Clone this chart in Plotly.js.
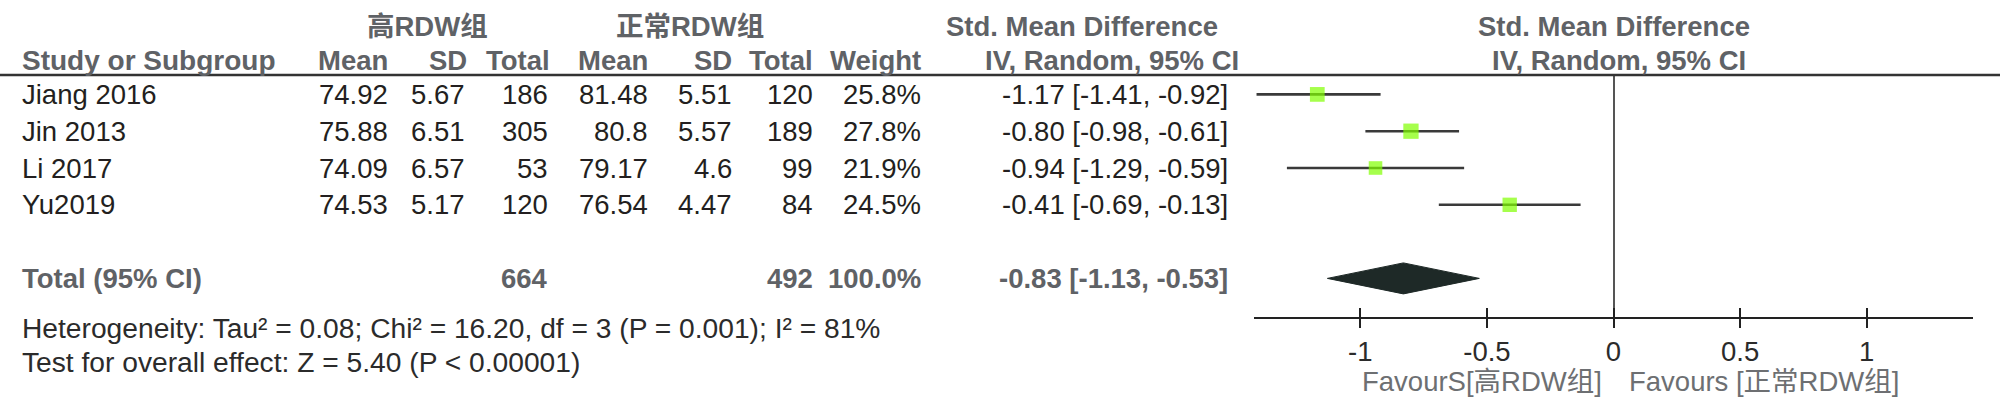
<!DOCTYPE html>
<html>
<head>
<meta charset="utf-8">
<script src="https://cdn.plot.ly/plotly-3.0.1.min.js"></script>
<style>html,body{margin:0;padding:0;background:#fff;}#chart{width:2000px;height:411px;}</style>
</head>
<body>
<div id="chart"></div>
<script>
// ---------------- data ----------------
const studies   = ['Jiang 2016', 'Jin 2013', 'Li 2017', 'Yu2019'];
const meanHigh  = [74.92, 75.88, 74.09, 74.53];
const sdHigh    = [5.67, 6.51, 6.57, 5.17];
const nHigh     = [186, 305, 53, 120];
const meanNorm  = [81.48, 80.8, 79.17, 76.54];
const sdNorm    = [5.51, 5.57, 4.6, 4.47];
const nNorm     = [120, 189, 99, 84];
const weights   = [25.8, 27.8, 21.9, 24.5];
const smd       = [-1.17, -0.80, -0.94, -0.41];
const ciLow     = [-1.41, -0.98, -1.29, -0.69];
const ciHigh    = [-0.92, -0.61, -0.59, -0.13];
const totalLabel = 'Total (95% CI)';
const totalNHigh = 664;
const totalNNorm = 492;
const totalWeight = 100.0;
const totalSmd = -0.83;
const totalLow = -1.13;
const totalHigh = -0.53;
const heterogeneityText = 'Heterogeneity: Tau² = 0.08; Chi² = 16.20, df = 3 (P = 0.001); I² = 81%';
const overallText = 'Test for overall effect: Z = 5.40 (P < 0.00001)';
const groupHigh = '高RDW组';
const groupNorm = '正常RDW组';
const colHeaders = ['Study or Subgroup', 'Mean', 'SD', 'Total', 'Mean', 'SD', 'Total', 'Weight', 'IV, Random, 95% CI'];
const effectHeader = 'Std. Mean Difference';
const favourLeft = 'FavourS[高RDW组]';
const favourRight = 'Favours [正常RDW组]';
const tickVals = [-1, -0.5, 0, 0.5, 1];
const tickText = ['-1', '-0.5', '0', '0.5', '1'];

// ---------------- layout helpers ----------------
const W = 2000, H = 411;
const FONT = "'Liberation Sans', Arial, 'Noto Sans CJK SC', sans-serif";
const FS = 27.5;
const rowTop = 94.4, rowStep = 36.8;          // pixel position of row 0 and pitch
const domTop = 75, domBot = 316.7;            // plot panel vertical extent (px)
const totalRow = studies.length + 1;          // index of the total row

const px = x => x / W;
const py = y => 1 - y / H;
const idxAt = p => (p - rowTop) / rowStep;

const HEAD = '#5f6266', DATA = '#231f20';
const ann = [];
function txt(text, x, y, anchor, opts) {
  opts = opts || {};
  ann.push({
    text: opts.bold ? '<b>' + text + '</b>' : text,
    x: px(x), xref: 'paper',
    y: opts.row !== undefined ? opts.row : py(y),
    yref: opts.row !== undefined ? 'y' : 'paper',
    xanchor: anchor, yanchor: 'middle', showarrow: false,
    font: {family: FONT, size: opts.size || FS, color: opts.color || DATA}
  });
}

// column right edges (px)
const cLeft = 20;
const cMean1 = 390, cSD1 = 467, cTot1 = 550, cMean2 = 650, cSD2 = 734, cTot2 = 815, cW = 923, cCI = 1230;

// group headers
txt(groupHigh, 427, 26, 'center', {bold: true, color: HEAD});
txt(groupNorm, 690, 26, 'center', {bold: true, color: HEAD});
txt(effectHeader, 1082, 26, 'center', {bold: true, color: HEAD});
txt(effectHeader, 1614, 26, 'center', {bold: true, color: HEAD});
// column headers
const hy = 60;
txt(colHeaders[0], cLeft, hy, 'left', {bold: true, color: HEAD, size: 28});
txt(colHeaders[1], cMean1, hy, 'right', {bold: true, color: HEAD});
txt(colHeaders[2], cSD1 + 2, hy, 'right', {bold: true, color: HEAD});
txt(colHeaders[3], cTot1 + 2, hy, 'right', {bold: true, color: HEAD});
txt(colHeaders[4], cMean2, hy, 'right', {bold: true, color: HEAD});
txt(colHeaders[5], cSD2, hy, 'right', {bold: true, color: HEAD});
txt(colHeaders[6], cTot2, hy, 'right', {bold: true, color: HEAD});
txt(colHeaders[7], cW, hy, 'right', {bold: true, color: HEAD});
txt(colHeaders[8], 1241, hy, 'right', {bold: true, color: HEAD});
txt(colHeaders[8], 1619, hy, 'center', {bold: true, color: HEAD});

// study rows
studies.forEach((s, i) => {
  txt(s, cLeft, 0, 'left', {row: i});
  txt(String(meanHigh[i]), cMean1, 0, 'right', {row: i});
  txt(String(sdHigh[i]), cSD1, 0, 'right', {row: i});
  txt(String(nHigh[i]), cTot1, 0, 'right', {row: i});
  txt(String(meanNorm[i]), cMean2, 0, 'right', {row: i});
  txt(String(sdNorm[i]), cSD2, 0, 'right', {row: i});
  txt(String(nNorm[i]), cTot2, 0, 'right', {row: i});
  txt(weights[i].toFixed(1) + '%', cW, 0, 'right', {row: i});
  txt(smd[i].toFixed(2) + ' [' + ciLow[i].toFixed(2) + ', ' + ciHigh[i].toFixed(2) + ']', cCI, 0, 'right', {row: i});
});

// total row
txt(totalLabel, cLeft, 0, 'left', {row: totalRow, bold: true, color: HEAD});
txt(String(totalNHigh), cTot1, 0, 'right', {row: totalRow, bold: true, color: HEAD});
txt(String(totalNNorm), cTot2, 0, 'right', {row: totalRow, bold: true, color: HEAD});
txt(totalWeight.toFixed(1) + '%', cW, 0, 'right', {row: totalRow, bold: true, color: HEAD});
txt(totalSmd.toFixed(2) + ' [' + totalLow.toFixed(2) + ', ' + totalHigh.toFixed(2) + ']', cCI, 0, 'right', {row: totalRow, bold: true, color: HEAD});

// footers
txt(heterogeneityText, cLeft, 328, 'left', {color: '#2b2b2b', size: 28.2});
txt(overallText, cLeft, 362, 'left', {color: '#2b2b2b', size: 28.2});
txt(favourLeft, 1604, 381, 'right', {color: '#6d6f72', size: 27.5});
txt(favourRight, 1627, 381, 'left', {color: '#6d6f72', size: 27.5});

// ---------------- traces ----------------
const rows = studies.map((_, i) => i);
const studyTrace = {
  type: 'scatter', mode: 'markers',
  x: smd, y: rows,
  xaxis: 'x', yaxis: 'y',
  marker: {symbol: 'square', color: '#80ff00', size: weights.map(w => 2.9 * Math.sqrt(w)), line: {width: 0}},
  error_x: {type: 'data', symmetric: false,
            array: smd.map((m, i) => ciHigh[i] - m),
            arrayminus: smd.map((m, i) => m - ciLow[i]),
            color: '#3a3a3a', thickness: 2.6, width: 0},
  hoverinfo: 'skip', showlegend: false, cliponaxis: false
};
const halfH = 15.5 / rowStep;
const diamond = {
  type: 'scatter', mode: 'lines',
  x: [totalLow, totalSmd, totalHigh, totalSmd, totalLow],
  y: [totalRow, totalRow - halfH, totalRow, totalRow + halfH, totalRow],
  fill: 'toself', fillcolor: '#1e2927', line: {color: '#1e2927', width: 1},
  xaxis: 'x', yaxis: 'y', hoverinfo: 'skip', showlegend: false
};
const tickHelper = {
  type: 'scatter', mode: 'markers', x: [0], y: [0], xaxis: 'x2', yaxis: 'y',
  marker: {opacity: 0}, hoverinfo: 'skip', showlegend: false
};

const xDomain = [px(1254), px(1973)];
const xRange = [-1.42, 1.42];
const layout = {
  width: W, height: H,
  margin: {l: 0, r: 0, t: 0, b: 0, pad: 0},
  paper_bgcolor: '#ffffff', plot_bgcolor: 'rgba(0,0,0,0)',
  showlegend: false,
  xaxis: {
    domain: xDomain, range: xRange, anchor: 'y',
    showline: true, linecolor: '#222', linewidth: 2.6,
    ticks: 'outside', ticklen: 9, tickwidth: 2, tickcolor: '#222',
    tickmode: 'array', tickvals: tickVals, ticktext: tickText,
    tickfont: {family: FONT, size: 27.5, color: '#2b2b2b'},
    zeroline: true, zerolinecolor: '#555', zerolinewidth: 2,
    showgrid: false, fixedrange: true
  },
  xaxis2: {
    overlaying: 'x', anchor: 'y', side: 'bottom', range: xRange,
    ticks: 'inside', ticklen: 9, tickwidth: 2, tickcolor: '#222',
    tickmode: 'array', tickvals: tickVals, showticklabels: false,
    showline: false, zeroline: false, showgrid: false, fixedrange: true
  },
  yaxis: {
    domain: [py(domBot), py(domTop)],
    range: [idxAt(domBot), idxAt(domTop)],
    showline: false, showticklabels: false, ticks: '', zeroline: false, showgrid: false, fixedrange: true
  },
  shapes: [
    {type: 'line', xref: 'paper', yref: 'paper', x0: 0, x1: 1, y0: py(domTop), y1: py(domTop),
     line: {color: '#333', width: 2.6}}
  ],
  annotations: ann
};

Plotly.newPlot('chart', [tickHelper, studyTrace, diamond], layout, {displayModeBar: false, staticPlot: true});
</script>
</body>
</html>
